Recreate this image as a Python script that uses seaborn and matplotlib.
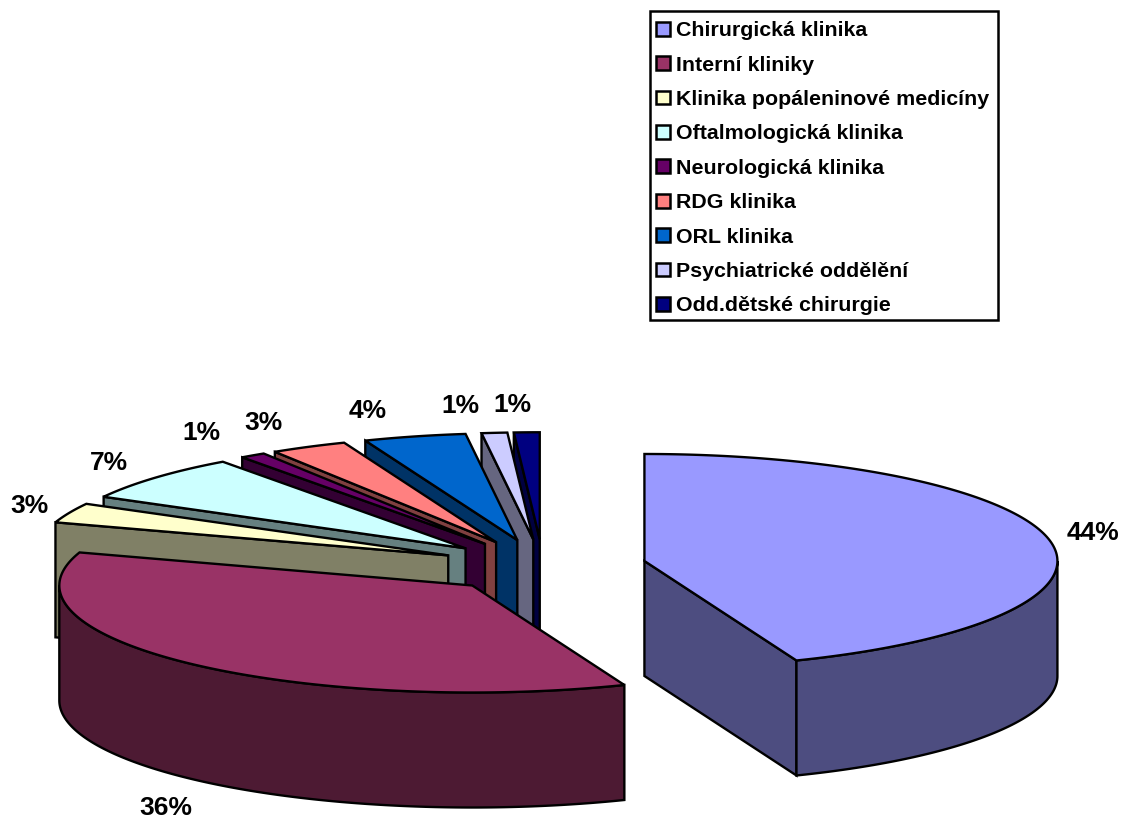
import numpy as np
import matplotlib
matplotlib.use("Agg")
import matplotlib.pyplot as plt
from matplotlib.patches import Patch, Polygon, Rectangle
import seaborn as sns

# Share of each department, percent
departments = ["Chirurgická klinika", "Interní kliniky", "Klinika popáleninové medicíny",
               "Oftalmologická klinika", "Neurologická klinika", "RDG klinika",
               "ORL klinika", "Psychiatrické oddělění", "Odd.dětské chirurgie"]
shares = [44, 36, 3, 7, 1, 3, 4, 1, 1]
face_hex = ["#9999FF", "#993366", "#FFFFCC", "#CCFFFF", "#660066",
            "#FF8080", "#0066CC", "#CCCCFF", "#000080"]

# Nudges of the percent labels away from the middle of each slice's rim
label_dx = [43, -24, -40, -47, -51, -45, -47, -34, -14]
label_dy = [-8, 145, -7, -15, -22, -24, -25, -27, -27]

# Projection of the tilted pie on the canvas
CX, CY = 543, 566
RX, RY = 413, 107
DEPTH = 115
EXPLODE = 0.25
EDGE = dict(edgecolor="black", linewidth=1.7, joinstyle="miter")

sns.set_theme(style="white")
plt.rcParams["font.family"] = ["Liberation Sans", "DejaVu Sans"]
palette = sns.color_palette(face_hex)
shade = [tuple(c * 0.5 for c in col) for col in palette]

fig = plt.figure(figsize=(11.23, 8.19), dpi=100, facecolor="white")
ax = fig.add_axes([0, 0, 1, 1])
ax.set_xlim(0, 1123)
ax.set_ylim(819, 0)
ax.axis("off")


def on_ellipse(theta, ox, oy):
    t = np.radians(theta)
    return ox + RX * np.sin(t), oy - RY * np.cos(t)


bounds = np.concatenate([[0], np.cumsum(shares)]) * 3.6
slices = []
for i, (start, end) in enumerate(zip(bounds[:-1], bounds[1:])):
    mid = (start + end) / 2
    ox = CX + EXPLODE * RX * np.sin(np.radians(mid))
    oy = CY - EXPLODE * RY * np.cos(np.radians(mid))
    slices.append((i, start, end, mid, ox, oy))


def draw_slice(i, start, end, mid, ox, oy):
    # Flat cut faces that turn towards the viewer
    for edge_angle, visible in ((start, 180 < start < 360), (end, 0 < end < 180)):
        if visible:
            x, y = on_ellipse(edge_angle, ox, oy)
            ax.add_patch(Polygon([(ox, oy), (x, y), (x, y + DEPTH), (ox, oy + DEPTH)],
                                 closed=True, facecolor=shade[i], **EDGE))
    # Outer wall on the near half of the ellipse
    lo, hi = max(start, 90), min(end, 270)
    if hi > lo:
        arc = np.linspace(lo, hi, 160)
        x, y = on_ellipse(arc, ox, oy)
        wall = np.vstack([np.column_stack([x, y]),
                          np.column_stack([x[::-1], y[::-1] + DEPTH])])
        ax.add_patch(Polygon(wall, closed=True, facecolor=shade[i], **EDGE))
    # Top face
    arc = np.linspace(start, end, max(12, int(end - start) * 2))
    x, y = on_ellipse(arc, ox, oy)
    top = np.vstack([[ox, oy], np.column_stack([x, y])])
    ax.add_patch(Polygon(top, closed=True, facecolor=palette[i], **EDGE))


# Back slices first so the near ones cover them
for item in slices[:0:-1]:
    draw_slice(*item)
draw_slice(*slices[0])

for (i, start, end, mid, ox, oy), dx, dy in zip(slices, label_dx, label_dy):
    x, y = on_ellipse(mid, ox, oy)
    ax.text(x + dx, y + dy, f"{shares[i]}%", fontsize=19, fontweight="bold",
            color="black", ha="center", va="center")

# Legend box and its entries
ax.add_patch(Rectangle((650, 11), 348, 309, facecolor="white", edgecolor="black", linewidth=1.8))
handles = [Patch(facecolor=c, edgecolor="black", linewidth=1.8) for c in palette]
legend = ax.legend(handles, departments, loc="upper left",
                   bbox_to_anchor=(649, 14), bbox_transform=ax.transData,
                   prop={"size": 15.4, "weight": "bold"},
                   frameon=False, borderaxespad=0, borderpad=0.34, labelspacing=0.72,
                   handlelength=0.62, handleheight=0.62, handletextpad=0.28)
for text in legend.get_texts():
    text.set_color("black")

fig.savefig("out.png", dpi=100, facecolor="white")
